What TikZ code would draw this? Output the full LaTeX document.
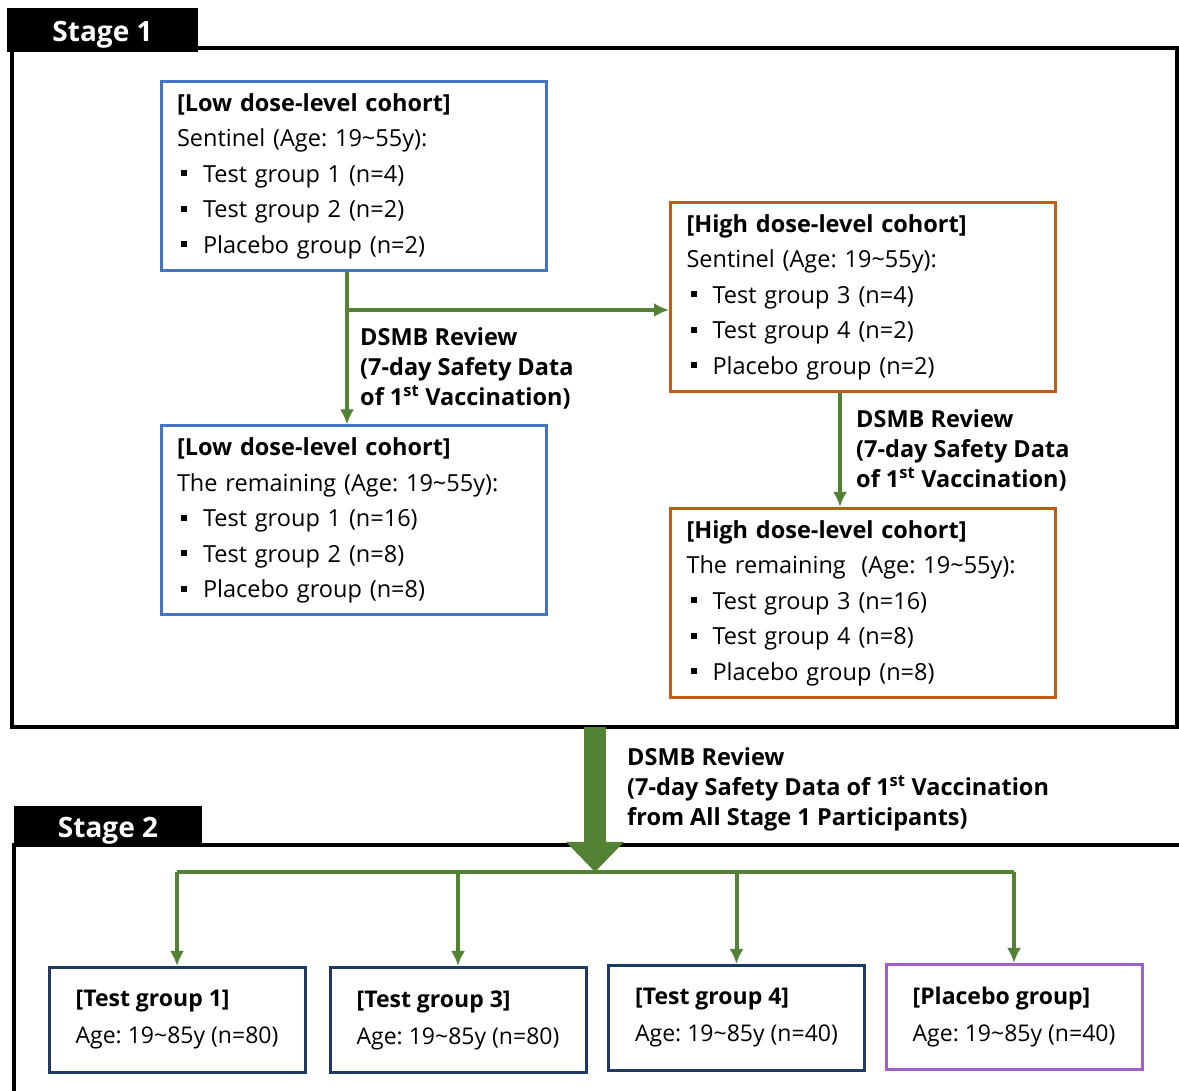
\documentclass[tikz,border=0pt]{standalone}
\usepackage{fontspec}
\setmainfont{Open Sans}
\usepackage{tikz}
\usetikzlibrary{arrows.meta,shapes,positioning}
\definecolor{dsmbgreen}{RGB}{84,130,53}
\definecolor{lowblue}{RGB}{68,114,196}
\definecolor{highorange}{RGB}{197,90,17}
\definecolor{grpnavy}{RGB}{31,56,100}
\definecolor{plcpurple}{RGB}{160,95,205}
\newcommand{\sqb}{\hspace{4bp}\rule[6bp]{6bp}{6bp}\hspace{16bp}}
\frenchspacing

\begin{document}
\begin{tikzpicture}[>={Latex[length=15bp,width=14bp]},line join=miter,
  font=\fontsize{23.5bp}{35.5bp}\selectfont,
  cohort/.style={draw,line width=3bp,align=left,inner xsep=16bp,inner ysep=0pt,
    minimum height=189bp,text width=353bp},
  grp/.style={draw,line width=3bp,align=left,inner sep=0pt,
    minimum height=105bp,minimum width=256bp,font=\fontsize{23bp}{37bp}\selectfont},
  tab/.style={fill=black,text=white,inner sep=0pt,text depth=2bp,
    font=\fontsize{28bp}{30bp}\selectfont\bfseries},
  review/.style={anchor=west,align=left,inner sep=0pt,
    font=\fontsize{23.5bp}{30bp}\selectfont\bfseries},
  flow/.style={->,draw=dsmbgreen,line width=4bp}]
\useasboundingbox (0bp,0bp) rectangle (1179bp,1091bp);
%%
\draw [line width=4bp] (12bp,1043bp) rectangle (1177bp,364bp);
\draw [line width=4bp] (1179bp,246bp) -- (14bp,246bp) -- (14bp,0bp);
  \node (stageA) at (102.5bp,1061bp) [tab,text height=26bp,minimum width=191bp,minimum height=44bp] {Stage 1};
  \node (stageB) at (108bp,265bp) [tab,text height=25bp,minimum width=188bp,minimum height=40bp] {Stage 2};
%
  \node (lowS) at (353.5bp,915bp) [cohort,draw=lowblue] {\textbf{[Low dose-level cohort]}\\
    Sentinel (Age: 19\textasciitilde55y):\\ \sqb Test group 1 (n=4)\\
    \sqb Test group 2 (n=2)\\ \sqb Placebo group (n=2)};
  \node (lowR) at (353.5bp,570.5bp) [cohort,draw=lowblue] {\textbf{[Low dose-level cohort]}\\
    The remaining (Age: 19\textasciitilde55y):\\ \sqb Test group 1 (n=16)\\
    \sqb Test group 2 (n=8)\\ \sqb Placebo group (n=8)};
  \node (highS) at (863bp,794bp) [cohort,draw=highorange] {\textbf{[High dose-level cohort]}\\
    Sentinel (Age: 19\textasciitilde55y):\\ \sqb Test group 3 (n=4)\\
    \sqb Test group 4 (n=2)\\ \sqb Placebo group (n=2)};
  \node (highR) at (863bp,488bp) [cohort,draw=highorange] {\textbf{[High dose-level cohort]}\\
    The remaining\ \ (Age: 19\textasciitilde55y):\\ \sqb Test group 3 (n=16)\\
    \sqb Test group 4 (n=8)\\ \sqb Placebo group (n=8)};
%
  \node (tg1) at (177bp,71bp) [grp,draw=grpnavy] {\textbf{[Test group 1]}\\ Age: 19\textasciitilde85y (n=80)};
  \node (tg3) at (458bp,71bp) [grp,draw=grpnavy] {\textbf{[Test group 3]}\\ Age: 19\textasciitilde85y (n=80)};
  \node (tg4) at (736.5bp,73bp) [grp,draw=grpnavy] {\textbf{[Test group 4]}\\ Age: 19\textasciitilde85y (n=40)};
  \node (plc) at (1014bp,74bp) [grp,draw=plcpurple] {\textbf{[Placebo group]}\\ Age: 19\textasciitilde85y (n=40)};
%
  \node (revA) at (360bp,723bp) [review] {DSMB Review\\ (7-day Safety Data\\ of 1\textsuperscript{st} Vaccination)};
  \node (revB) at (856bp,641bp) [review] {DSMB Review\\ (7-day Safety Data\\ of 1\textsuperscript{st} Vaccination)};
  \node (revC) at (627bp,302bp) [review] {DSMB Review\\ (7-day Safety Data of 1\textsuperscript{st} Vaccination\\ from All Stage 1 Participants)};
%
\coordinate (split) at (347bp,781bp);
\coordinate (bigtop) at (595bp,364bp);
\coordinate (bar) at (595bp,219bp);
  \draw [flow] ([xshift=-6.5bp]lowS.south) -- ([xshift=-6.5bp]lowR.north);
  \draw [flow] (split) -- (split -| highS.west);
  \draw [flow] ([xshift=-23bp]highS.south) -- ([xshift=-23bp]highR.north);
  \draw [->,draw=dsmbgreen,line width=22bp,>={Triangle[length=30bp,width=56bp]}] (bigtop) -- (bar);
  \draw [draw=dsmbgreen,line width=4bp] (tg1.north |- bar) -- (plc.north |- bar);
  \draw [flow] (tg1.north |- bar) -- (tg1.north);
  \draw [flow] (tg3.north |- bar) -- (tg3.north);
  \draw [flow] (tg4.north |- bar) -- (tg4.north);
  \draw [flow] (plc.north |- bar) -- (plc.north);
%
\end{tikzpicture}
\end{document}
